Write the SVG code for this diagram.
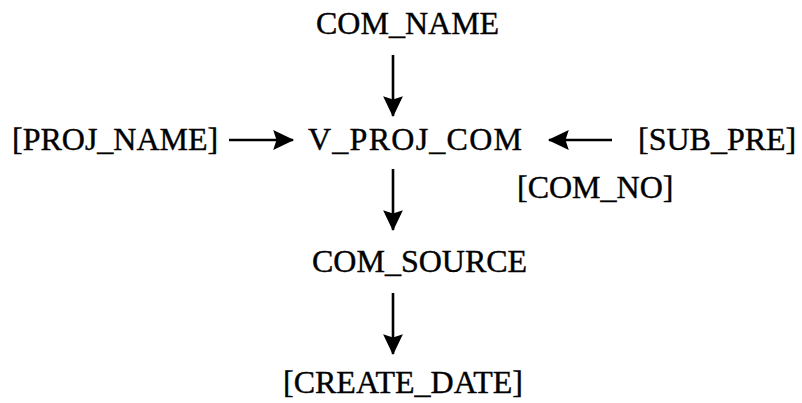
<svg xmlns="http://www.w3.org/2000/svg" width="802" height="403" viewBox="0 0 802 403">
  <style>
    .lbl { font-family: "Liberation Serif", "Times New Roman", serif; font-size: 32px; fill: #000; stroke: #000; stroke-width: 0.4; }
    .edge { stroke: #000; stroke-width: 2.6; fill: none; }
  </style>
  <defs>
    <marker id="head" markerUnits="userSpaceOnUse" markerWidth="22" markerHeight="22" viewBox="0 0 20 20" refX="18" refY="10" orient="auto">
      <path d="M0,1 L19,10 L0,19 L3,10 Z" fill="#000"/>
    </marker>
  </defs>

  <g id="connectors">
    <line class="edge" x1="393" y1="55" x2="393" y2="116" marker-end="url(#head)"/>
    <line class="edge" x1="229" y1="140" x2="293" y2="140" marker-end="url(#head)"/>
    <line class="edge" x1="612" y1="140" x2="549" y2="140" marker-end="url(#head)"/>
    <line class="edge" x1="393" y1="169" x2="393" y2="230" marker-end="url(#head)"/>
    <line class="edge" x1="393" y1="293" x2="393" y2="354" marker-end="url(#head)"/>
  </g>

  <g id="com_name"><text class="lbl" x="316" y="34">COM_NAME</text></g>
  <g id="proj_name"><text class="lbl" x="12" y="150">[PROJ_NAME]</text></g>
  <g id="v_proj_com"><text class="lbl" x="308" y="150" textLength="214">V_PROJ_COM</text></g>
  <g id="sub_pre"><text class="lbl" x="638" y="150">[SUB_PRE]</text></g>
  <g id="com_no"><text class="lbl" x="517" y="198">[COM_NO]</text></g>
  <g id="com_source"><text class="lbl" x="312" y="272">COM_SOURCE</text></g>
  <g id="create_date"><text class="lbl" x="283" y="393">[CREATE_DATE]</text></g>
</svg>
